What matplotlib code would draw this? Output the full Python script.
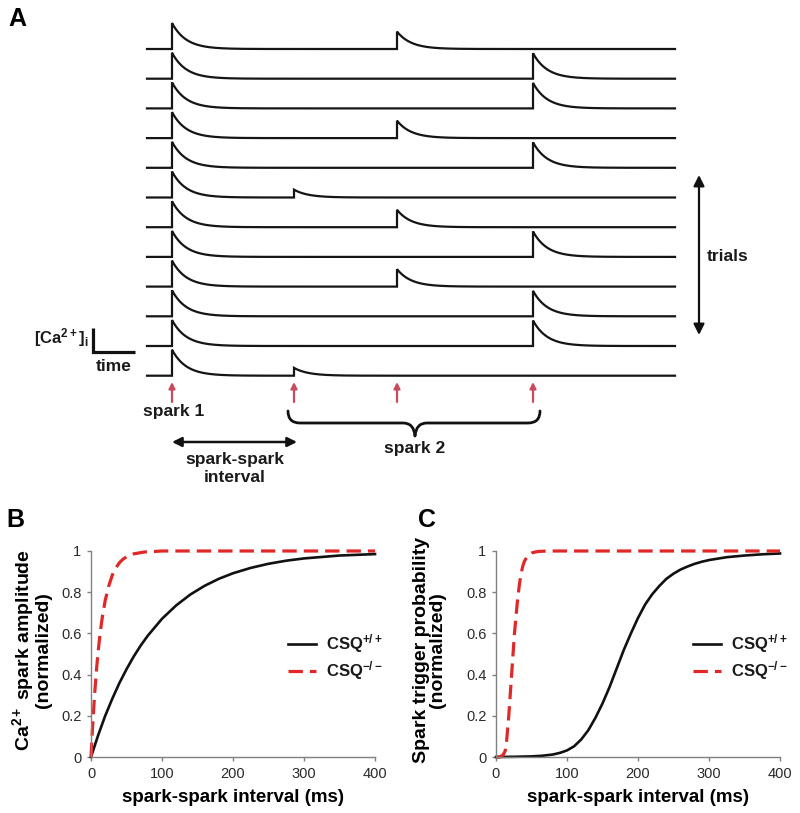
import numpy as np
import matplotlib
matplotlib.use("Agg")
import matplotlib.pyplot as plt
from matplotlib.path import Path
from matplotlib.patches import PathPatch

plt.rcParams['font.family'] = ['Liberation Sans', 'DejaVu Sans']
plt.rcParams['mathtext.fontset'] = 'custom'
plt.rcParams['mathtext.rm'] = 'Liberation Sans'
plt.rcParams['mathtext.it'] = 'Liberation Sans:italic'
plt.rcParams['mathtext.bf'] = 'Liberation Sans:bold'

# ---------------- data ----------------
# Panel A: 12 trials, spark 1 at t=0; spark 2 delay (schematic units) per trial
spark2_delay = [225, 361, 361, 225, 361, 122, 225, 361, 225, 361, 361, 122]
spark2_rel_amp = {122: 0.30, 225: 0.67, 361: 0.98}
spark1_amp = 26.0
decay_tau = 14.0
trace_start, trace_end = -25, 503
arrow_delays = [0, 122, 225, 361]

# Panel B: normalized spark amplitude
b_wt_t = [0, 10, 20, 30, 40, 50, 60, 70, 80, 100, 120, 140, 160, 180, 200, 225, 250, 275, 300, 350, 400]
b_wt_v = [0, 0.105, 0.20, 0.283, 0.359, 0.426, 0.487, 0.541, 0.589, 0.671, 0.736, 0.789,
          0.831, 0.865, 0.892, 0.918, 0.938, 0.953, 0.964, 0.978, 0.985]
b_ko_t = [0, 2, 5, 8, 10, 13, 16, 20, 25, 30, 35, 40, 45, 50, 60, 75, 100, 200, 300, 400]
b_ko_v = [0, 0.133, 0.30, 0.435, 0.51, 0.605, 0.68, 0.76, 0.83, 0.883, 0.918, 0.943,
          0.96, 0.972, 0.986, 0.995, 1.0, 1.0, 1.0, 1.0]

# Panel C: normalized trigger probability
c_wt_t = [0, 25, 50, 65, 80, 90, 100, 110, 120, 130, 140, 150, 160, 170, 180, 190, 200,
          210, 220, 230, 240, 250, 260, 270, 280, 290, 300, 325, 350, 375, 400]
c_wt_v = [0, 0.001, 0.003, 0.006, 0.012, 0.02, 0.032, 0.052, 0.085, 0.13, 0.19, 0.26,
          0.34, 0.43, 0.52, 0.60, 0.675, 0.74, 0.79, 0.83, 0.865, 0.89, 0.91, 0.925,
          0.938, 0.948, 0.956, 0.97, 0.978, 0.984, 0.988]
c_ko_t = [0, 5, 10, 13, 15, 18, 20, 23, 26, 30, 33, 36, 38, 40, 43, 46, 50, 55, 60, 75, 100, 400]
c_ko_v = [0, 0, 0.01, 0.03, 0.08, 0.2, 0.3, 0.45, 0.6, 0.75, 0.84, 0.9, 0.93, 0.95, 0.968,
          0.98, 0.99, 0.995, 0.998, 1.0, 1.0, 1.0]

xticks = [0, 100, 200, 300, 400]
yticks = [0, 0.2, 0.4, 0.6, 0.8, 1]
ytick_labels = ['0', '0.2', '0.4', '0.6', '0.8', '1']

# ---------------- figure ----------------
fig = plt.figure(figsize=(8, 8.13), dpi=100)
W, H = 800, 813

# Panel A overlay (pixel coordinates)
axA = fig.add_axes([0, 0, 1, 1])
axA.set_xlim(0, W)
axA.set_ylim(H, 0)
axA.axis('off')
axA.patch.set_alpha(0)

X0 = 172.0      # spark-1 x position
BASE0 = 49.0    # baseline of first trial
SP = 29.7       # trial spacing


def kernel(t):
    return np.where(t >= 0, np.exp(-np.clip(t, 0, None) / decay_tau), 0.0)


t = np.linspace(trace_start, trace_end, 4000)
t = np.sort(np.concatenate([t, [-1e-6, 0.0]]))
for k, d in enumerate(spark2_delay):
    tt = np.sort(np.concatenate([t, [d - 1e-6, d]]))
    y = spark1_amp * kernel(tt) + spark1_amp * spark2_rel_amp[d] * kernel(tt - d)
    base = BASE0 + k * SP
    axA.plot(X0 + tt, base - y, color='#151515', lw=1.6, solid_joinstyle='miter')

red = '#c94a5e'
for d in arrow_delays:
    axA.annotate('', xy=(X0 + d, 382), xytext=(X0 + d, 402),
                 arrowprops=dict(arrowstyle='-|>', color=red, lw=1.6, mutation_scale=9,
                                 shrinkA=0, shrinkB=0))

bold = dict(fontweight='bold', color='#1a1a1a')
axA.text(X0 + 2, 411, 'spark 1', ha='center', va='center', fontsize=12.5, **bold)

# spark-spark interval double arrow
axA.annotate('', xy=(X0 + 125, 442), xytext=(X0, 442),
             arrowprops=dict(arrowstyle='<|-|>', color='#111', lw=1.8, mutation_scale=14,
                             shrinkA=0, shrinkB=0))
axA.text(X0 + 63, 459, 'spark-spark', ha='center', va='center', fontsize=12.5, **bold)
axA.text(X0 + 63, 477, 'interval', ha='center', va='center', fontsize=12.5, **bold)

# brace
bx0, bx1, bm = 288, 540, 415
by_top, by_line, by_tip = 411, 423, 436
verts = [(bx0, by_top), (bx0, by_line), (bx0 + 12, by_line),
         (bm - 12, by_line), (bm - 1, by_line), (bm, by_tip),
         (bm + 1, by_line), (bm + 12, by_line),
         (bx1 - 12, by_line), (bx1, by_line), (bx1, by_top)]
codes = [Path.MOVETO, Path.CURVE3, Path.CURVE3,
         Path.LINETO, Path.CURVE3, Path.CURVE3,
         Path.CURVE3, Path.CURVE3,
         Path.LINETO, Path.CURVE3, Path.CURVE3]
axA.add_patch(PathPatch(Path(verts, codes), fill=False, lw=2.0, edgecolor='#111',
                        capstyle='round', joinstyle='round'))
axA.text(bm, 448, 'spark 2', ha='center', va='center', fontsize=12.5, **bold)

# trials arrow
axA.annotate('', xy=(699, 175), xytext=(699, 335),
             arrowprops=dict(arrowstyle='<|-|>', color='#111', lw=1.6, mutation_scale=16,
                             shrinkA=0, shrinkB=0))
axA.text(707, 256, 'trials', ha='left', va='center', fontsize=12.5, **bold)

# scale bar
axA.plot([93, 93, 135], [328, 352.5, 352.5], color='#111', lw=2.3,
         solid_joinstyle='miter', solid_capstyle='butt')
axA.text(89, 338, r'[Ca$^{\mathbf{2+}}$]$_{\mathbf{i}}$', ha='right', va='center',
         fontsize=12, **bold)
axA.text(114, 366, 'time', ha='center', va='center', fontsize=12.5, **bold)

# panel letters
axA.text(17, 19, 'A', ha='center', va='center', fontsize=18, fontweight='bold')
axA.text(15, 520, 'B', ha='center', va='center', fontsize=18, fontweight='bold')
axA.text(427, 520, 'C', ha='center', va='center', fontsize=18, fontweight='bold')


def style_axes(ax, ylabel, ylab_x):
    for s in ['top', 'right']:
        ax.spines[s].set_visible(False)
    for s in ['left', 'bottom']:
        ax.spines[s].set_color('#808080')
        ax.spines[s].set_linewidth(1.0)
    ax.set_xlim(0, 400)
    ax.set_ylim(0, 1)
    ax.set_xticks(xticks)
    ax.set_yticks(yticks)
    ax.set_yticklabels(ytick_labels)
    ax.tick_params(direction='out', length=3, width=1, color='#808080',
                   labelsize=10.5, labelcolor='#2a2a2a', pad=4)
    ax.set_xlabel('spark-spark interval (ms)', fontsize=13.5, fontweight='bold', va='center')
    ax.xaxis.set_label_coords(0.5, -0.195)
    ax.set_ylabel(ylabel, fontsize=14, fontweight='bold', va='center', linespacing=0.95)
    ax.yaxis.set_label_coords(ylab_x, 0.52)
    ax.patch.set_alpha(0)


def add_curves(ax, wt_t, wt_v, ko_t, ko_v):
    ax.plot(wt_t, wt_v, color='#111', lw=1.9, label=r'CSQ$^{\mathbf{+/+}}$', clip_on=False,
            solid_joinstyle='round')
    ax.plot(ko_t, ko_v, color='#e02828', lw=2.3, dashes=(4.5, 2.2),
            label=r'CSQ$^{\mathbf{-/-}}$', clip_on=False)
    leg = ax.legend(loc='upper left', bbox_to_anchor=(0.694, 0.605), frameon=False,
                    borderpad=0, borderaxespad=0, handlelength=1.7, handletextpad=0.55,
                    labelspacing=0.25, prop=dict(weight='bold', size=12))
    for txt in leg.get_texts():
        txt.set_color('#1a1a1a')


axB = fig.add_axes([91 / W, (H - 757) / H, 284 / W, 206 / H])
style_axes(axB, 'Ca$^{\\mathbf{2+}}$ spark amplitude\n(normalized)', -0.21)
add_curves(axB, b_wt_t, b_wt_v, b_ko_t, b_ko_v)

axC = fig.add_axes([496 / W, (H - 757) / H, 284 / W, 206 / H])
style_axes(axC, 'Spark trigger probability\n(normalized)', -0.235)
add_curves(axC, c_wt_t, c_wt_v, c_ko_t, c_ko_v)

fig.savefig('out.png', dpi=100)
